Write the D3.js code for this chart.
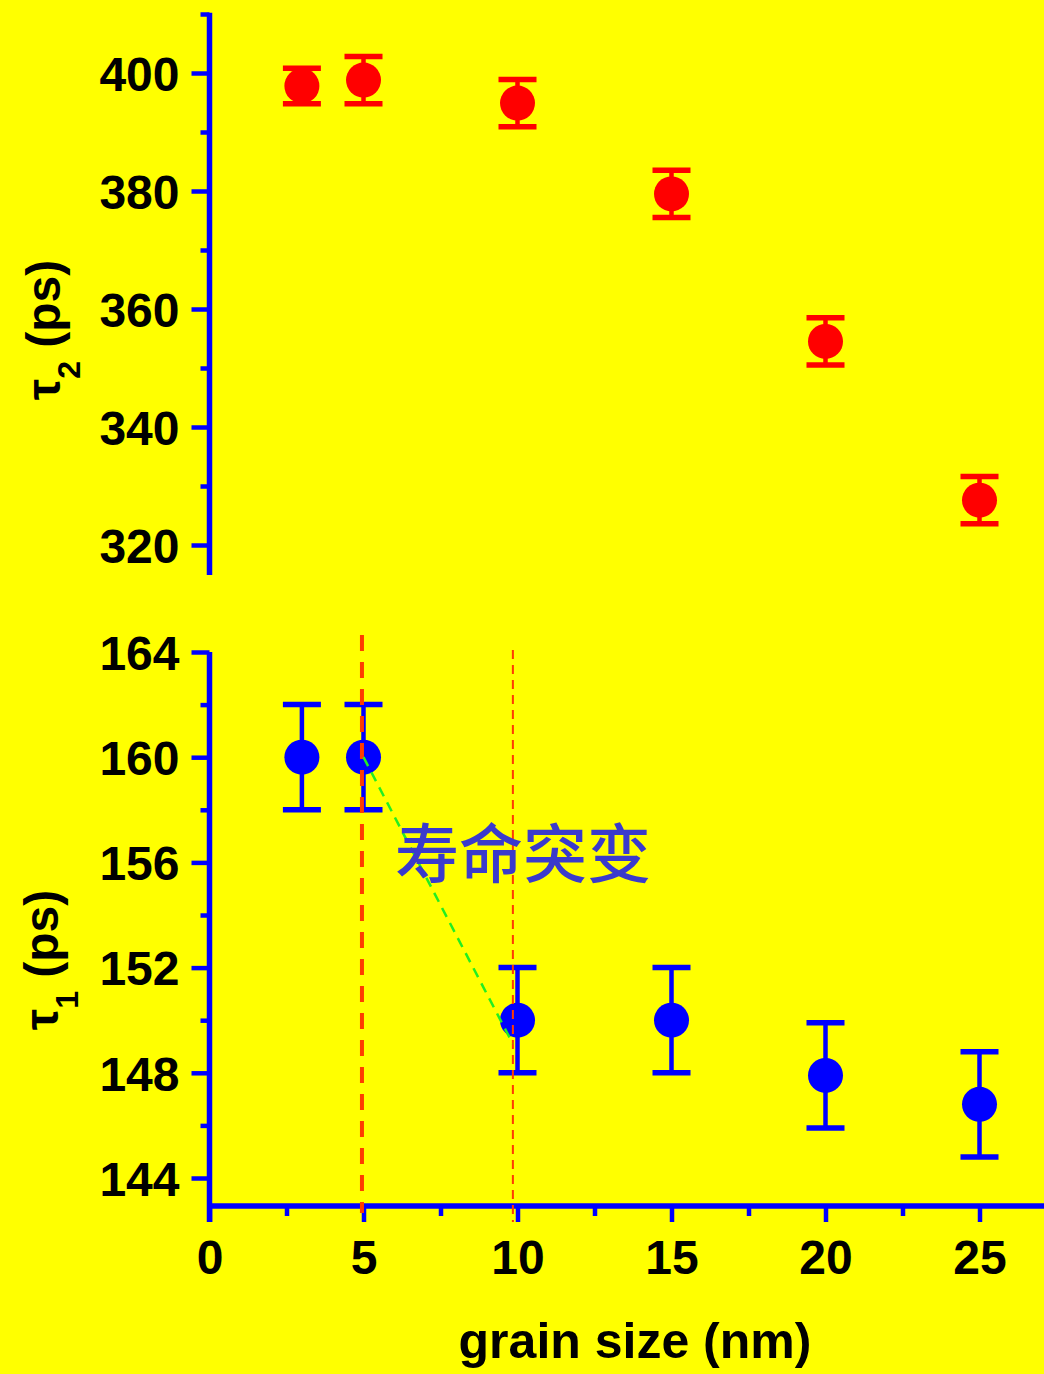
<!DOCTYPE html>
<html><head><meta charset="utf-8">
<script src="https://cdn.jsdelivr.net/npm/d3@7"></script>
<style>
html,body{margin:0;padding:0;background:#ffff00;}
svg{display:block;}
</style></head><body>
<svg id="chart" width="1044" height="1374"></svg>
<script>
// Positron lifetimes vs. grain size
const grainSize = [3, 5, 10, 15, 20, 25];
const tau2 = [397.8, 398.8, 394.9, 379.5, 354.5, 327.6];
const tau2Err = [3, 4, 4, 4, 4, 4];
const tau1 = [160, 160, 150, 150, 147.9, 146.8];
const tau1Err = [2, 2, 2, 2, 2, 2];

const xTicks = [0, 5, 10, 15, 20, 25];
const xMinorTicks = [2.5, 7.5, 12.5, 17.5, 22.5];
const tau2Ticks = [320, 340, 360, 380, 400];
const tau2MinorTicks = [330, 350, 370, 390, 410];
const tau1Ticks = [144, 148, 152, 156, 160, 164];
const tau1MinorTicks = [146, 150, 154, 158, 162];

// annotation: vertical guides and the jump between 5 nm and 10 nm
const guideX = [4.95, 9.85];
const jumpFrom = [5, 160];
const jumpTo = [9.85, 149.1];
const jumpLabel = "寿命突变";

const W = 1044, H = 1374;
const BLUE = "#0000ff", RED = "#ff0000", GUIDE = "#ff3c00", GREEN = "#22ee22";
const FONT = "'Liberation Sans', Arial, sans-serif";

const svg = d3.select("#chart");
svg.append("rect").attr("width", W).attr("height", H).attr("fill", "#ffff00");

const x = d3.scaleLinear().domain([0, 25]).range([209.5, 979.5]);
const yTop = d3.scaleLinear().domain([320, 400]).range([545, 73]);
const yBot = d3.scaleLinear().domain([144, 164]).range([1178, 652]);
const xAxisY = 1206;

function styleAxis(g, width) {
  g.select(".domain").remove();
  g.selectAll(".tick line").attr("stroke", BLUE).attr("stroke-width", width);
  g.selectAll(".tick text")
    .attr("fill", "#000")
    .style("font-family", FONT)
    .style("font-weight", "bold")
    .style("font-size", "48px");
}

// ---- top panel (tau2) ----
const gTop = svg.append("g").attr("transform", "translate(209.5,0)");
gTop.append("g")
  .call(d3.axisLeft(yTop).tickValues(tau2MinorTicks).tickSize(9).tickFormat(""))
  .call(g => styleAxis(g, 4.5));
gTop.append("g")
  .call(d3.axisLeft(yTop).tickValues(tau2Ticks).tickSize(18).tickPadding(12).tickFormat(d3.format("d")))
  .call(g => styleAxis(g, 4.5))
  .call(g => g.selectAll(".tick text").attr("dy", "0.36em"));
svg.append("line")
  .attr("x1", x(0)).attr("x2", x(0))
  .attr("y1", yTop(410.2)).attr("y2", yTop(314.9))
  .attr("stroke", BLUE).attr("stroke-width", 5.5);

// ---- bottom panel (tau1) ----
const gBot = svg.append("g").attr("transform", "translate(209.5,0)");
gBot.append("g")
  .call(d3.axisLeft(yBot).tickValues(tau1MinorTicks).tickSize(9).tickFormat(""))
  .call(g => styleAxis(g, 4.5));
gBot.append("g")
  .call(d3.axisLeft(yBot).tickValues(tau1Ticks).tickSize(18).tickPadding(12).tickFormat(d3.format("d")))
  .call(g => styleAxis(g, 4.5))
  .call(g => g.selectAll(".tick text").attr("dy", "0.36em"));
svg.append("line")
  .attr("x1", x(0)).attr("x2", x(0))
  .attr("y1", yBot(164)).attr("y2", xAxisY + 16)
  .attr("stroke", BLUE).attr("stroke-width", 5.5);

// ---- x axis ----
const gX = svg.append("g").attr("transform", `translate(0,${xAxisY})`);
gX.append("g")
  .call(d3.axisBottom(x).tickValues(xMinorTicks).tickSize(10).tickFormat(""))
  .call(g => styleAxis(g, 4.5));
gX.append("g")
  .call(d3.axisBottom(x).tickValues(xTicks).tickSize(16).tickFormat(d3.format("d")))
  .call(g => styleAxis(g, 4.5))
  .call(g => g.selectAll(".tick text").attr("y", 68).attr("dy", 0));
svg.append("line")
  .attr("x1", x(0) - 2).attr("x2", W)
  .attr("y1", xAxisY).attr("y2", xAxisY)
  .attr("stroke", BLUE).attr("stroke-width", 5.5);

// ---- axis titles ----
function yTitle(cx, cy, sub) {
  const t = svg.append("text")
    .attr("transform", `translate(${cx},${cy}) rotate(-90)`)
    .attr("text-anchor", "middle")
    .style("font-family", FONT).style("font-weight", "bold").style("font-size", "48px")
    .attr("fill", "#000");
  t.append("tspan").text("τ");
  t.append("tspan").attr("dy", 20).style("font-size", "32px").text(sub);
  t.append("tspan").attr("dy", -20).text(" (ps)");
}
yTitle(60, 330, "2");
yTitle(58, 960, "1");

svg.append("text")
  .attr("x", 635).attr("y", 1358)
  .attr("text-anchor", "middle")
  .style("font-family", FONT).style("font-weight", "bold").style("font-size", "50px")
  .attr("fill", "#000")
  .text("grain size (nm)");

// ---- data marks ----
function errorPoints(vals, errs, yScale, color) {
  const rows = grainSize.map((g, i) => ({ g, v: vals[i], e: errs[i] }));
  const pts = svg.append("g").selectAll("g").data(rows).join("g");
  pts.append("line")
    .attr("x1", d => x(d.g)).attr("x2", d => x(d.g))
    .attr("y1", d => yScale(d.v - d.e)).attr("y2", d => yScale(d.v + d.e))
    .attr("stroke", color).attr("stroke-width", 4.5);
  pts.selectAll(".cap").data(d => [d.v - d.e, d.v + d.e].map(v => ({ g: d.g, v })))
    .join("line").attr("class", "cap")
    .attr("x1", d => x(d.g) - 19).attr("x2", d => x(d.g) + 19)
    .attr("y1", d => yScale(d.v)).attr("y2", d => yScale(d.v))
    .attr("stroke", color).attr("stroke-width", 5.5);
  pts.append("circle")
    .attr("cx", d => x(d.g)).attr("cy", d => yScale(d.v))
    .attr("r", 17.5).attr("fill", color);
}
errorPoints(tau2, tau2Err, yTop, RED);
errorPoints(tau1, tau1Err, yBot, BLUE);

// ---- annotation ----
svg.append("line")
  .attr("x1", x(guideX[0])).attr("x2", x(guideX[0]))
  .attr("y1", 635).attr("y2", 1213)
  .attr("stroke", GUIDE).attr("stroke-width", 4).attr("stroke-dasharray", "16 11");
svg.append("line")
  .attr("x1", x(guideX[1])).attr("x2", x(guideX[1]))
  .attr("y1", 650).attr("y2", 1222)
  .attr("stroke", GUIDE).attr("stroke-width", 2).attr("stroke-dasharray", "9 6");
svg.append("line")
  .attr("x1", x(jumpFrom[0])).attr("y1", yBot(jumpFrom[1]))
  .attr("x2", x(jumpTo[0])).attr("y2", yBot(jumpTo[1]))
  .attr("stroke", GREEN).attr("stroke-width", 2.5).attr("stroke-dasharray", "10 7");

svg.append("text")
  .attr("x", 395).attr("y", 877)
  .style("font-family", "'Noto Sans CJK SC', sans-serif")
  .style("font-size", "64px").style("font-weight", "500")
  .attr("fill", "#3a3acc")
  .text(jumpLabel);
</script>
</body></html>
